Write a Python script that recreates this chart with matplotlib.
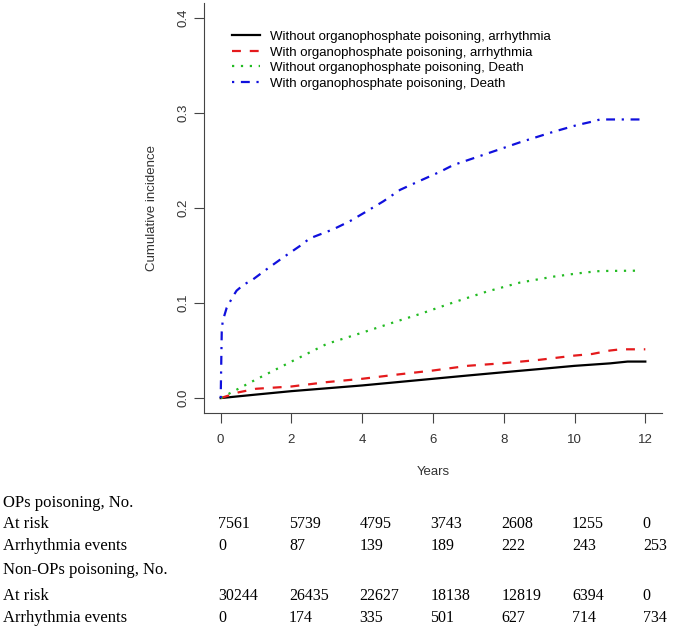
import matplotlib
matplotlib.use("Agg")
import matplotlib.pyplot as plt
import matplotlib.transforms as mtransforms

# ── curve data ────────────────────────────────────────────────────────────────
t_nop_arr = [0, 1, 2, 3, 4, 5, 6, 7, 8, 9, 10, 11, 11.5, 12]
ci_nop_arr = [0, 0.0037, 0.0073, 0.0103, 0.0133, 0.0168, 0.0203, 0.0238, 0.0272,
              0.0305, 0.0339, 0.0365, 0.0384, 0.0384]

t_op_arr = [0, 0.5, 1, 2, 3, 4, 5, 6, 7, 8, 9, 10, 10.5, 11, 11.3, 12]
ci_op_arr = [0, 0.006, 0.0098, 0.0122, 0.0168, 0.0203, 0.0248, 0.029, 0.034, 0.0367,
             0.0402, 0.0447, 0.0464, 0.050, 0.0513, 0.0513]

t_nop_death = [0, 1, 2, 3, 4, 5, 5.63, 6.57, 7.52, 8.46, 9.40, 10.06, 10.63, 10.91,
               11.85]
ci_nop_death = [0, 0.0196, 0.0384, 0.057, 0.0688, 0.081, 0.0884, 0.1005, 0.112,
                0.1215, 0.1277, 0.131, 0.1334, 0.1337, 0.134]

t_op_death = [0, 0.03, 0.057, 0.17, 0.356, 0.45, 0.64, 0.92, 1.30, 1.77, 2.24, 2.52,
              3.18, 3.65, 4.13, 4.60, 5.07, 5.54, 6.20, 6.57, 7.52, 8.46, 9.40, 10.06,
              10.53, 10.72, 12]
ci_op_death = [0, 0.07, 0.081, 0.095, 0.1075, 0.113, 0.119, 0.125, 0.1355, 0.148, 0.16,
               0.168, 0.1775, 0.186, 0.1965, 0.207, 0.219, 0.227, 0.238, 0.245, 0.257,
               0.269, 0.280, 0.287, 0.291, 0.293, 0.293]

legend_labels = [
    "Without organophosphate poisoning, arrhythmia",
    "With organophosphate poisoning, arrhythmia",
    "Without organophosphate poisoning, Death",
    "With organophosphate poisoning, Death",
]

# ── number-at-risk table ──────────────────────────────────────────────────────
table_years = [0, 2, 4, 6, 8, 10, 12]
op_at_risk = [7561, 5739, 4795, 3743, 2608, 1255, 0]
op_events = [0, 87, 139, 189, 222, 243, 253]
nonop_at_risk = [30244, 26435, 22627, 18138, 12819, 6394, 0]
nonop_events = [0, 174, 335, 501, 627, 714, 734]

W, H = 673, 629
fig = plt.figure(figsize=(W / 100, H / 100), dpi=100)
ax = fig.add_axes([203.7 / W, 1 - 413.3 / H, (662.3 - 203.7) / W, (413.3 - 2.5) / H])

sans = "Liberation Sans"
serif = "Liberation Serif"

ax.plot(t_nop_arr, ci_nop_arr, color="black", lw=1.6, ls="-")
ax.plot(t_op_arr, ci_op_arr, color="#e41a1c", lw=1.6, ls=(0, (4, 4)))
ax.plot(t_nop_death, ci_nop_death, color="#22bb22", lw=1.6, ls=(0, (1, 3)))
ax.plot(t_op_death, ci_op_death, color="#1010dd", lw=1.6, ls=(0, (1, 3, 4, 3)))

ax.set_xlim(-0.48, 12.48)
ax.set_ylim(-0.016, 0.416)
ax.set_xticks(range(0, 13, 2))
ax.set_yticks([0, 0.1, 0.2, 0.3, 0.4])
ax.set_yticklabels(["0.0", "0.1", "0.2", "0.3", "0.4"], rotation=90, va="center")
for s in ["top", "right"]:
    ax.spines[s].set_visible(False)
for s in ["left", "bottom"]:
    ax.spines[s].set_color("#444444")
ax.tick_params(length=7, color="#444444", labelsize=9.5, labelcolor="#333333")
ax.tick_params(axis="x", pad=8)
ax.tick_params(axis="y", pad=3)
for lab in ax.get_xticklabels() + ax.get_yticklabels():
    lab.set_family(sans)
ax.set_xlabel("Years", fontsize=9.5, family=sans, color="#333333", labelpad=14)
ax.set_ylabel("Cumulative incidence", fontsize=9.5, family=sans, color="#333333",
              labelpad=14)

leg = ax.legend(legend_labels, loc="upper left", bbox_to_anchor=(0.036, 0.96),
                frameon=False, handlelength=2.1, handletextpad=0.8,
                labelspacing=0.25, prop={"family": sans, "size": 9.5})

# table below the plot
row_labels = ["OPs poisoning, No.", "At risk", "Arrhythmia events",
              "Non-OPs poisoning, No.", "At risk", "Arrhythmia events"]
row_values = [None, op_at_risk, op_events, None, nonop_at_risk, nonop_events]
row_base = [507, 528.5, 550, 573.5, 600, 621.5]

trans = mtransforms.blended_transform_factory(ax.transData, fig.transFigure)
trans = mtransforms.offset_copy(trans, fig=fig, x=-2.5, y=0, units="dots")
for lab, vals, yb in zip(row_labels, row_values, row_base):
    yf = 1 - yb / H
    fig.text(3 / W, yf, lab, family=serif, fontsize=12, va="baseline", ha="left")
    if vals is None:
        continue
    for x, v in zip(table_years, vals):
        ax.text(x, yf, str(v), transform=trans, family=serif, fontsize=11.5,
                va="baseline", ha="left", clip_on=False)

fig.savefig("out.png", dpi=100)
